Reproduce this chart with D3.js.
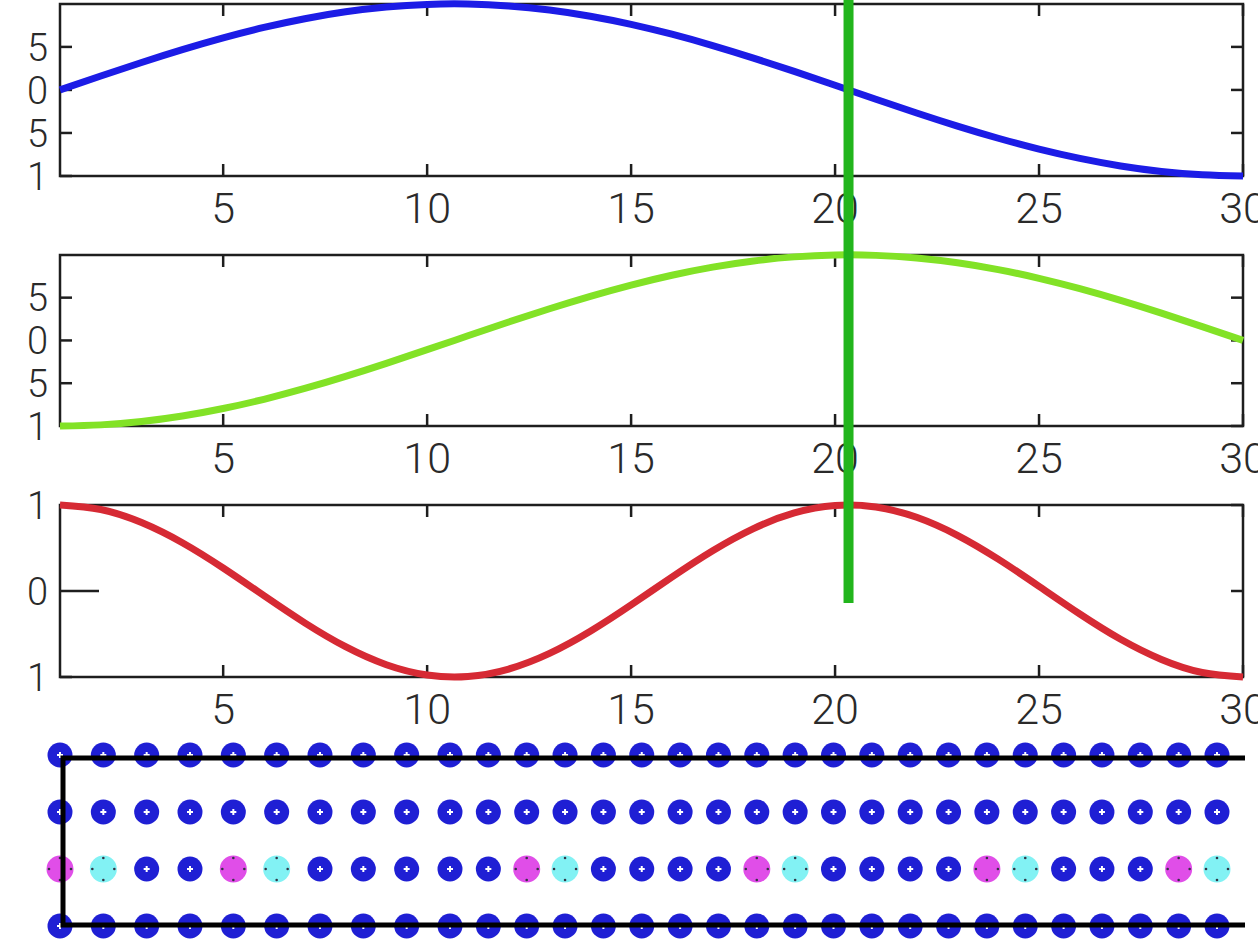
<!DOCTYPE html>
<html>
<head>
<meta charset="utf-8">
<script src="https://cdn.jsdelivr.net/npm/d3@7"></script>
<style>
  html, body { margin: 0; padding: 0; background: #fff; overflow: hidden; }
  svg { display: block; }
</style>
</head>
<body>
<svg id="chart" width="1258" height="952"></svg>
<script>
// Sample positions shared by the three traces
const samples = [1, 2, 3, 4, 5, 6, 7, 8, 9, 10, 11, 12, 13, 14, 15,
                 16, 17, 18, 19, 20, 21, 22, 23, 24, 25, 26, 27, 28, 29, 30];

// Trace values per sample
const blueWave = [0, 0.1618, 0.3193, 0.4684, 0.6052, 0.7260, 0.8277, 0.9076, 0.9635, 0.9941,
                  0.9985, 0.9766, 0.9290, 0.8569, 0.7622, 0.6473, 0.5155, 0.3701, 0.2149, 0.0541,
                  -0.1081, -0.2675, -0.4199, -0.5613, -0.6878, -0.7960, -0.8835, -0.9477, -0.9868, -1];
const greenWave = [-1, -0.9868, -0.9477, -0.8835, -0.7960, -0.6878, -0.5613, -0.4199, -0.2675, -0.1081,
                   0.0541, 0.2149, 0.3701, 0.5155, 0.6473, 0.7622, 0.8569, 0.9290, 0.9766, 0.9985,
                   0.9941, 0.9635, 0.9076, 0.8277, 0.7260, 0.6052, 0.4684, 0.3193, 0.1618, 0];
const redWave = [1, 0.9477, 0.7960, 0.5613, 0.2675, -0.0541, -0.3701, -0.6473, -0.8569, -0.9766,
                 -0.9941, -0.9076, -0.7260, -0.4684, -0.1618, 0.1618, 0.4684, 0.7260, 0.9076, 0.9941,
                 0.9766, 0.8569, 0.6473, 0.3701, 0.0541, -0.2675, -0.5613, -0.7960, -0.9477, -1];

// Axis ticks and their printed labels
const xTicks = [5, 10, 15, 20, 25, 30];
const xTickLabels = ["5", "10", "15", "20", "25", "30"];
const yTicksHalf = [-1, -0.5, 0, 0.5];
const yTickLabelsHalf = ["1", "5", "0", "5"];
const yTicksUnit = [-1, 0, 1];
const yTickLabelsUnit = ["1", "0", "1"];

// Vertical cursor: position on the x axis and where it stops in the lowest trace panel
const cursorX = 20.33;
const cursorEnd = -0.14;

// Marker grid below the traces
const gridColumns = [1, 2, 3, 4, 5, 6, 7, 8, 9, 10, 11, 12, 13, 14, 15,
                     16, 17, 18, 19, 20, 21, 22, 23, 24, 25, 26, 27, 28, 29, 30];
const gridRows = [1, 2, 3, 4];
const highlightRow = 3;
const magentaColumns = [1, 5, 12, 18, 24, 29];
const cyanColumns = [2, 6, 13, 19, 25, 30];

const svg = d3.select("#chart");
const FONT = "Roboto, 'Liberation Sans', Arial, sans-serif";
const AXIS = "#1e1e1e";
const TEXT = "#2a2a2a";

const x = d3.scaleLinear().domain([1, 30]).range([60, 1243]);

const panels = [
  { values: blueWave,  color: "#1c1ce6", top: 4,   bottom: 176, ticks: yTicksHalf, labels: yTickLabelsHalf },
  { values: greenWave, color: "#82e226", top: 255, bottom: 426, ticks: yTicksHalf, labels: yTickLabelsHalf },
  { values: redWave,   color: "#d62a34", top: 505, bottom: 677, ticks: yTicksUnit, labels: yTickLabelsUnit, longZero: true }
];

const tickLen = 12;
const yScales = [];

panels.forEach((p) => {
  const y = d3.scaleLinear().domain(d3.extent(p.values)).range([p.bottom, p.top]);
  yScales.push(y);
  const g = svg.append("g");
  const [x0, x1] = x.range();

  // box
  g.append("rect")
    .attr("x", x0).attr("y", p.top)
    .attr("width", x1 - x0).attr("height", p.bottom - p.top)
    .attr("fill", "none").attr("stroke", AXIS).attr("stroke-width", 2.5);

  // x ticks (bottom and top, pointing inward)
  xTicks.forEach((t, i) => {
    g.append("line").attr("x1", x(t)).attr("x2", x(t))
      .attr("y1", p.bottom).attr("y2", p.bottom - tickLen)
      .attr("stroke", AXIS).attr("stroke-width", 2.5);
    g.append("line").attr("x1", x(t)).attr("x2", x(t))
      .attr("y1", p.top).attr("y2", p.top + tickLen)
      .attr("stroke", AXIS).attr("stroke-width", 2.5);
    g.append("text").attr("x", x(t)).attr("y", p.bottom + 47)
      .attr("text-anchor", "middle").attr("font-family", FONT)
      .attr("font-weight", 300)
      .attr("font-size", 43).attr("fill", TEXT)
      .text(xTickLabels[i]);
  });

  // y ticks (left and right, pointing inward)
  p.ticks.forEach((t, i) => {
    const len = (p.longZero && t === 0) ? 39 : tickLen;
    g.append("line").attr("x1", x0).attr("x2", x0 + len)
      .attr("y1", y(t)).attr("y2", y(t))
      .attr("stroke", AXIS).attr("stroke-width", 2.5);
    g.append("line").attr("x1", x1).attr("x2", x1 - tickLen)
      .attr("y1", y(t)).attr("y2", y(t))
      .attr("stroke", AXIS).attr("stroke-width", 2.5);
    g.append("text").attr("x", 48).attr("y", y(t))
      .attr("dy", "0.36em")
      .attr("text-anchor", "end").attr("font-family", FONT)
      .attr("font-weight", 300)
      .attr("font-size", 38).attr("fill", TEXT)
      .text(p.labels[i]);
  });

  // trace
  const line = d3.line().curve(d3.curveNatural).x((d, i) => x(samples[i])).y(d => y(d));
  g.append("path").datum(p.values)
    .attr("d", line)
    .attr("fill", "none").attr("stroke", p.color)
    .attr("stroke-width", 7).attr("stroke-linejoin", "round").attr("stroke-linecap", "butt");
});

// Marker grid
const col = d3.scaleLinear().domain([1, 10, 30]).range([60, 450, 1217]);
const row = d3.scaleLinear().domain([1, 4]).range([755, 926]);

const cells = [];
gridRows.forEach(r => gridColumns.forEach(c => {
  let kind = "blue";
  if (r === highlightRow && magentaColumns.includes(c)) kind = "magenta";
  if (r === highlightRow && cyanColumns.includes(c)) kind = "cyan";
  cells.push({ r, c, kind });
}));

const grid = svg.append("g");
const cellG = grid.selectAll("g.cell").data(cells).join("g")
  .attr("class", "cell")
  .attr("transform", d => `translate(${col(d.c)},${row(d.r)})`);

cellG.append("circle")
  .attr("r", d => d.kind === "blue" ? 12.5 : 13.5)
  .attr("fill", d => d.kind === "blue" ? "#1f1fd4" : d.kind === "magenta" ? "#e04ee8" : "#82f2f4");

// small white cross in the middle of the blue markers
const blue = cellG.filter(d => d.kind === "blue");
blue.append("rect").attr("x", -1).attr("y", -3).attr("width", 2).attr("height", 6).attr("fill", "#fff");
blue.append("rect").attr("x", -3).attr("y", -1).attr("width", 6).attr("height", 2).attr("fill", "#fff");

const dotOffsets = [[0, -11], [11, 0], [0, 11], [-11, 0]];
cellG.filter(d => d.kind !== "blue").each(function () {
  const s = d3.select(this);
  dotOffsets.forEach(([dx, dy]) => {
    s.append("circle").attr("cx", dx).attr("cy", dy).attr("r", 1.3).attr("fill", "#334");
  });
});

// Open frame over the grid
const fy0 = row(1) + 3, fy1 = row(4) - 1;
const fx0 = x(1) + 3, fx1 = x(30) + 2;
grid.append("path")
  .attr("d", `M${fx1},${fy0}H${fx0}V${fy1}H${fx1}`)
  .attr("fill", "none").attr("stroke", "#000").attr("stroke-width", 5);

// Vertical cursor across the trace panels
svg.append("line")
  .attr("x1", x(cursorX)).attr("x2", x(cursorX))
  .attr("y1", 0).attr("y2", yScales[2](cursorEnd))
  .attr("stroke", "#22b51c").attr("stroke-width", 10);
</script>
</body>
</html>
